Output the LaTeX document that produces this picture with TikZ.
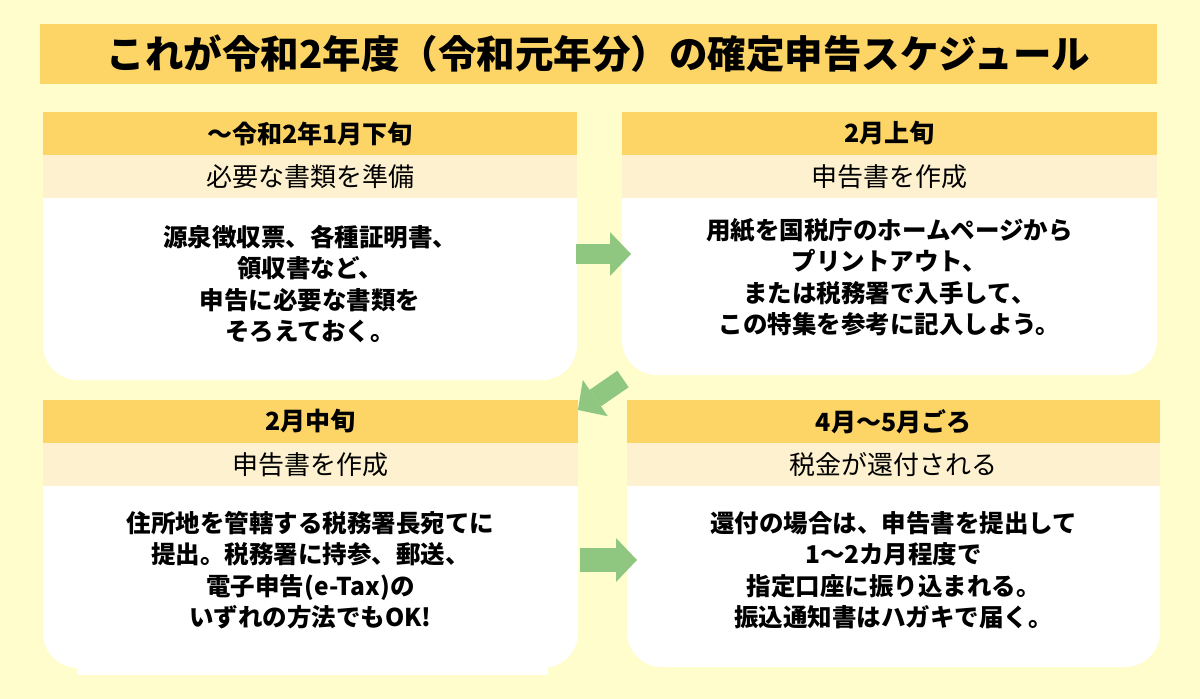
\documentclass[tikz,border=0pt]{standalone}
\usepackage{fontspec}
\setmainfont{Noto Sans CJK JP}
\usetikzlibrary{positioning,arrows.meta}
\definecolor{paper}{RGB}{255,253,204}
\definecolor{gold}{RGB}{252,213,102}
\definecolor{cream}{RGB}{253,241,207}
\definecolor{leaf}{RGB}{143,198,128}
\begin{document}
\begin{tikzpicture}
[x=1pt,y=-1pt,
titlebar/.style={fill=gold,inner sep=0pt,minimum width=1117pt,minimum height=60pt,
font=\bfseries\fontsize{38.5}{40}\selectfont},
hdbox/.style={fill=gold,inner sep=0pt,minimum height=43pt,font=\bfseries\fontsize{25}{27}\selectfont},
sbbox/.style={fill=cream,inner sep=0pt,minimum height=43pt,font=\fontsize{26}{28}\selectfont},
bdtext/.style={align=center,inner sep=0pt,font=\bfseries\fontsize{24.5}{31.5}\selectfont},
flow/.style={leaf,line width=#1,-{Triangle[length=21pt,width=44pt,line width=0pt]}}]
\fill[paper] (0,0) rectangle (1200,699);
\node[titlebar] (title) at (598.5,54) {これが令和2年度（令和元年分）の確定申告スケジュール};
\fill[white] (77,640) rectangle (548,675);
\foreach \n/\xl/\xr/\yt/\yb/\ty/\hdtext/\sbtext/\bdtext in {
1/43/577/112/380/284/{～令和2年1月下旬}/{必要な書類を準備}/{源泉徴収票、各種証明書、\\領収書など、\\申告に必要な書類を\\そろえておく。},
2/622/1157/112/375/277/{2月上旬}/{申告書を作成}/{用紙を国税庁のホームページから\\プリントアウト、\\または税務署で入手して、\\この特集を参考に記入しよう。},
3/43/578/400/668/570/{2月中旬}/{申告書を作成}/{住所地を管轄する税務署長宛てに\\提出。税務署に持参、郵送、\\電子申告(e-Tax)の\\いずれの方法でもOK!},
4/627/1160/400/667/570/{4月～5月ごろ}/{税金が還付される}/{還付の場合は、申告書を提出して\\1～2カ月程度で\\指定口座に振り込まれる。\\振込通知書はハガキで届く。}}{
\fill[white,rounded corners=35pt] (\xl,\yt+43) rectangle (\xr,\yb);
\node[hdbox,minimum width={\xr-\xl}] (hd\n) at ({(\xl+\xr)/2},{\yt+21.5}) {\hdtext};
\node[sbbox,minimum width={\xr-\xl},below=0pt of hd\n] (sb\n) {\sbtext};
\node[bdtext] (bd\n) at ({(\xl+\xr)/2},\ty) {\bdtext};
}
\coordinate (a1s) at (576,254);
\coordinate (a1e) at (631,254);
\coordinate (a2s) at (623,379);
\coordinate (a2e) at (578,410);
\coordinate (a3s) at (580,560);
\coordinate (a3e) at (637,560);
\draw[flow=20pt] (a1s) -- (a1e);
\draw[flow=20pt] (a2s) -- (a2e);
\draw[flow=24pt] (a3s) -- (a3e);
%\draw[step=50, thin] (0,0) grid (1200,699);
\end{tikzpicture}
\end{document}
